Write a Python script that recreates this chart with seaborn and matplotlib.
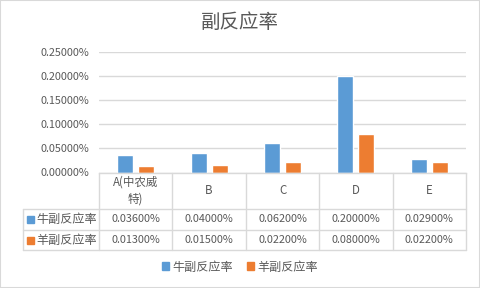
import matplotlib
matplotlib.use("Agg")
import matplotlib.pyplot as plt
import matplotlib.patches as mpatches
from matplotlib.transforms import blended_transform_factory
import seaborn as sns
import pandas as pd

# ---- data ----
categories = ["A(中农威\n特)", "B", "C", "D", "E"]
series_names = ["牛副反应率", "羊副反应率"]
cattle_values = [0.036, 0.040, 0.062, 0.200, 0.029]   # percent
sheep_values = [0.013, 0.015, 0.022, 0.080, 0.022]    # percent
y_ticks = [0.0, 0.05, 0.10, 0.15, 0.20, 0.25]
title = "副反应率"

colors = ["#5B9BD5", "#ED7D31"]
text_color = "#595959"
grid_color = "#D9D9D9"

sns.set_style("white")
plt.rcParams["font.family"] = ["Noto Sans CJK SC", "DejaVu Sans"]

df = pd.DataFrame({
    "cat": categories * 2,
    "val": cattle_values + sheep_values,
    "series": [series_names[0]] * 5 + [series_names[1]] * 5,
})

W, H = 480, 288
fig = plt.figure(figsize=(W / 100, H / 100), dpi=100)

def fx(px):
    return px / W

def fy(py):
    return 1 - py / H

ax = fig.add_axes([fx(99), fy(172.5), fx(466) - fx(99), fy(51.9) - fy(172.5)])
sns.barplot(data=df, x="cat", y="val", hue="series", palette=colors,
            width=0.57, gap=0.23, ax=ax, legend=False, saturation=1)
ax.set_xlim(-0.5, 4.5)
ax.set_ylim(0, 0.25)
ax.set_yticks(y_ticks)
ax.set_yticklabels([f"{v:.5f}%" for v in y_ticks], fontsize=7.8, color=text_color)
ax.tick_params(axis="y", length=0, pad=7)
ax.set_xticks([])
ax.set_xlabel("")
ax.set_ylabel("")
ax.yaxis.grid(True, color=grid_color, linewidth=1)
ax.set_axisbelow(True)
for s in ["top", "right", "left"]:
    ax.spines[s].set_visible(False)
ax.spines["bottom"].set_color(grid_color)
ax.spines["bottom"].set_linewidth(1)

fig.suptitle(title, x=0.5, y=fy(22), va="center", fontsize=14, color=text_color)

# ---- data table ----
bt = blended_transform_factory(ax.transData, fig.transFigure)
top, r1, r2, bot = 172.5, 209, 229.5, 250
lw = 1
for i in range(6):
    xb = i - 0.5
    fig.add_artist(plt.Line2D([xb, xb], [fy(top), fy(bot)], transform=bt,
                              color=grid_color, lw=lw, clip_on=False))
fig.add_artist(plt.Line2D([fx(22.5), fx(22.5)], [fy(r1), fy(bot)],
                          transform=fig.transFigure, color=grid_color, lw=lw))
for yy in [r1, r2, bot]:
    fig.add_artist(plt.Line2D([fx(22.5), fx(466)], [fy(yy), fy(yy)],
                              transform=fig.transFigure, color=grid_color, lw=lw))

for i, c in enumerate(categories):
    fig.text(i, fy(190.5), c, transform=bt, ha="center", va="center",
             fontsize=8.3, color=text_color, linespacing=1.45)

rows = [cattle_values, sheep_values]
row_y = [219.5, 240]
for r, vals in enumerate(rows):
    for i, v in enumerate(vals):
        fig.text(i, fy(row_y[r]), f"{v:.5f}%", transform=bt, ha="center",
                 va="center", fontsize=7.8, color=text_color)
    fig.add_artist(mpatches.Rectangle((fx(26.5), fy(row_y[r] + 3.5)), fx(7), 7 / H,
                                      transform=fig.transFigure, color=colors[r]))
    fig.text(fx(36), fy(row_y[r]), series_names[r], ha="left", va="center",
             fontsize=8.7, color=text_color)

# ---- legend ----
handles = [mpatches.Patch(color=colors[k], label=series_names[k]) for k in range(2)]
fig.legend(handles=handles, loc="center", bbox_to_anchor=(0.5, fy(267)), ncol=2,
           frameon=False, fontsize=8.7, labelcolor=text_color,
           handlelength=0.6, handleheight=0.6, handletextpad=0.3, columnspacing=1.1)

# outer border
fig.add_artist(mpatches.Rectangle((0, 0), 1, 1, transform=fig.transFigure,
                                  fill=False, edgecolor=grid_color, lw=1.5))

fig.savefig("out.png", dpi=100)
